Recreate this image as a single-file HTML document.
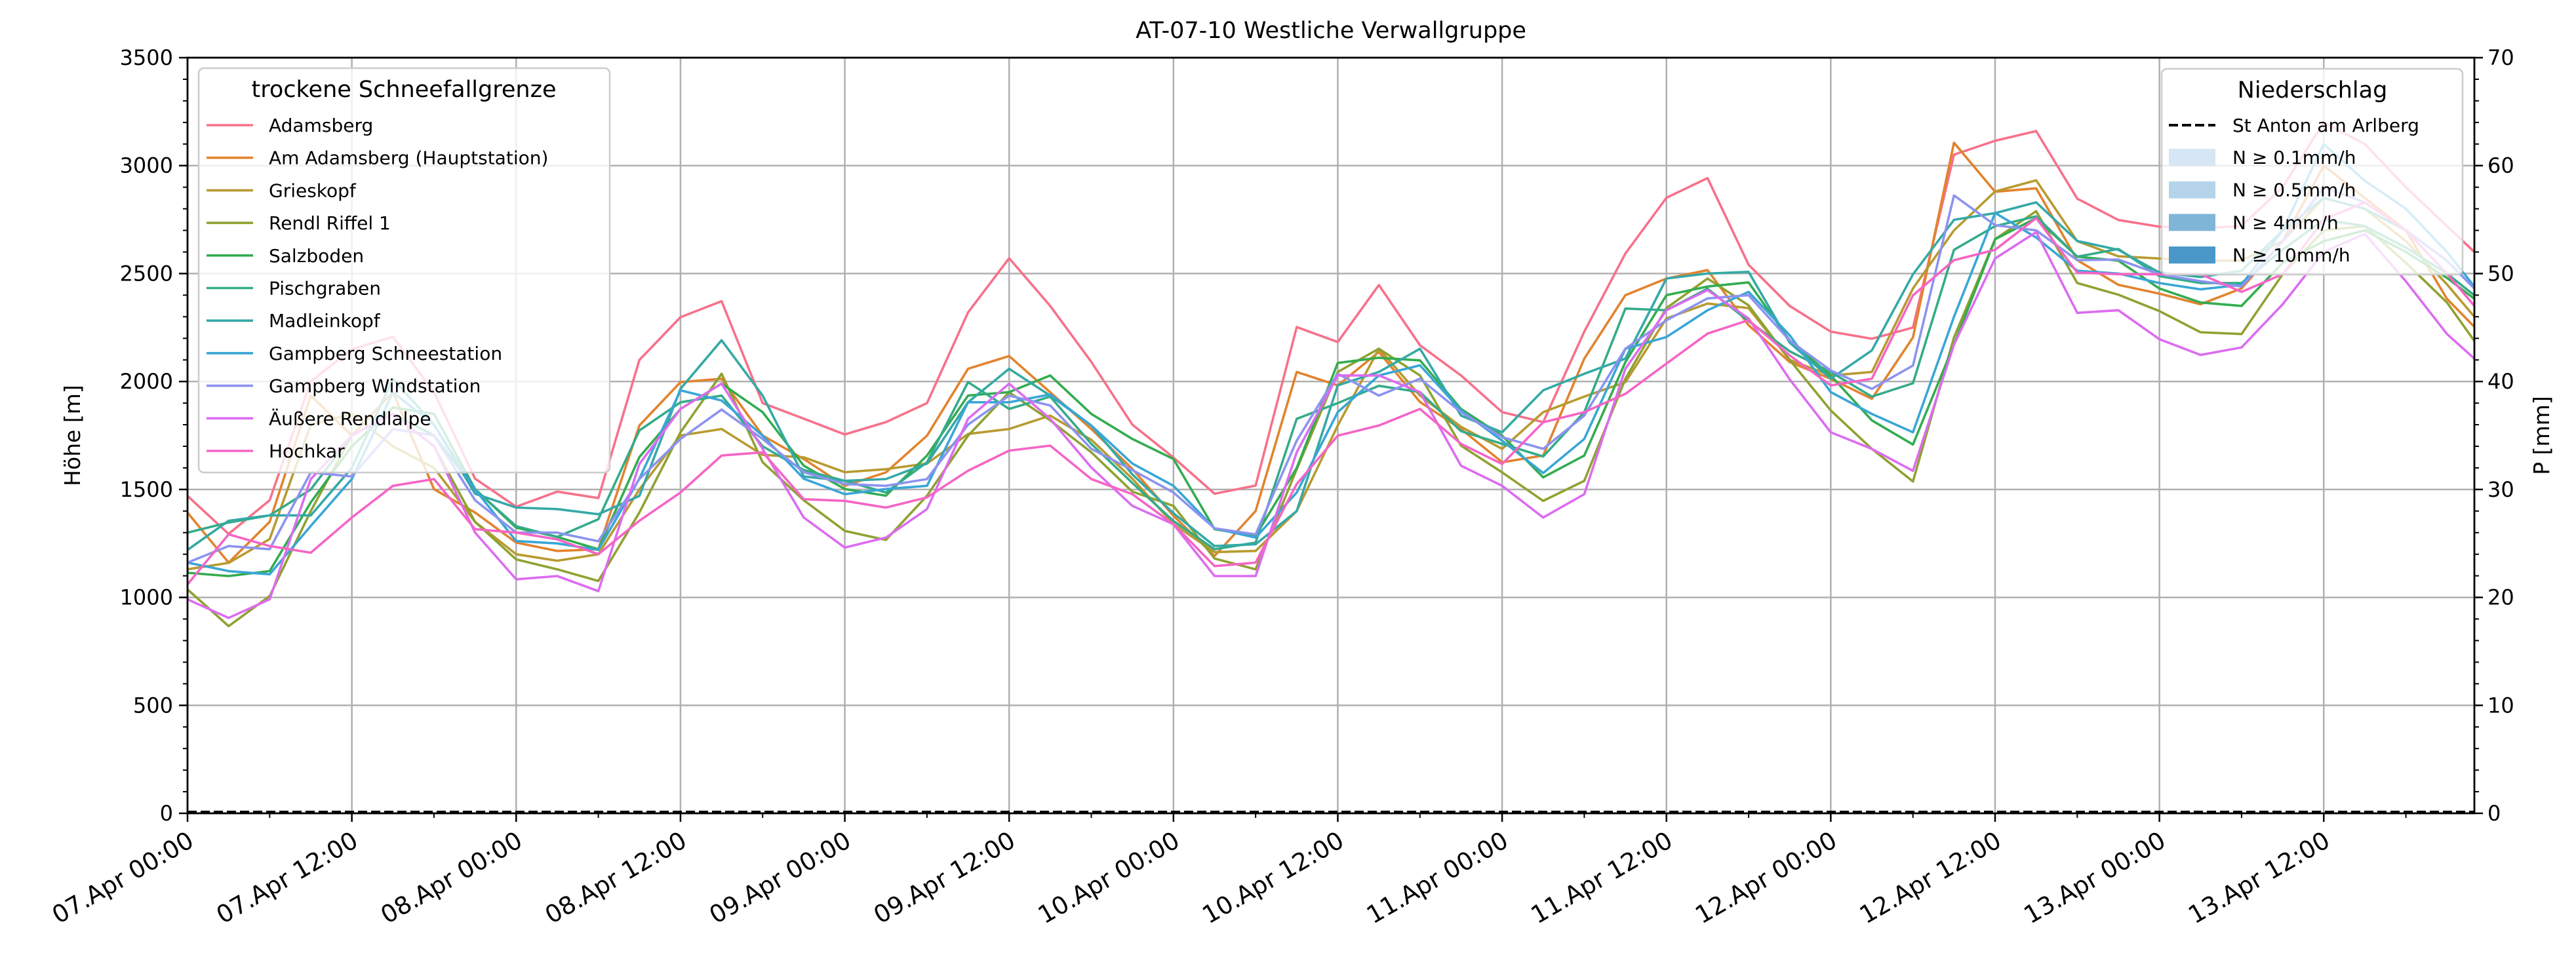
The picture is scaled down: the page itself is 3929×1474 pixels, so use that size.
<!DOCTYPE html>
<html><head><meta charset="utf-8">
<style>
html,body{margin:0;padding:0;background:#fff;}
svg{display:block;font-family:"DejaVu Sans","Liberation Sans",sans-serif;}
</style></head>
<body>
<svg id="chart" width="3929" height="1474" viewBox="0 0 3929 1474" xmlns="http://www.w3.org/2000/svg">
<rect width="3929" height="1474" fill="#fff"/>
<text x="2030" y="58" font-size="35" text-anchor="middle">AT-07-10 Westliche Verwallgruppe</text>
<g id="grid"></g><g id="series"></g><g id="axes"></g><g id="legends"></g>
</svg>
<script>
const hours = [0,3,6,9,12,15,18,21,24,27,30,33,36,39,42,45,48,51,54,57,60,63,66,69,72,75,78,81,84,87,90,93,96,99,102,105,108,111,114,117,120,123,126,129,132,135,138,141,144,147,150,153,156,159,162,165,167];
const seriesNames = ["Adamsberg","Am Adamsberg (Hauptstation)","Grieskopf","Rendl Riffel 1","Salzboden","Pischgraben","Madleinkopf","Gampberg Schneestation","Gampberg Windstation","Äußere Rendlalpe","Hochkar"];
const seriesColors = ["#f7718a","#e2832e","#b89a30","#8fa231","#33ac50","#35ab8a","#35a9a6","#39a6d6","#8c93ef","#dc6cf0","#f565c5"];
const adamsberg = [1470,1294,1450,2000,2150,2207,1950,1550,1420,1490,1460,2100,2298,2372,1900,1828,1755,1812,1900,2320,2571,2350,2091,1800,1648,1480,1518,2252,2183,2447,2168,2028,1858,1812,2231,2593,2851,2942,2541,2350,2231,2198,2250,3051,3115,3160,2847,2748,2717,2710,2720,2900,3200,3100,2900,2720,2600];
const amAdamsberg = [1393,1161,1350,1935,1750,1951,1501,1393,1254,1215,1223,1796,1997,2013,1750,1641,1517,1579,1749,2059,2118,1950,1780,1595,1378,1192,1400,2044,1982,2137,1905,1780,1626,1657,2106,2400,2477,2516,2261,2090,2013,1920,2204,3106,2879,2895,2562,2448,2407,2358,2431,2650,3000,2850,2700,2383,2253];
const grieskopf = [1130,1160,1270,1800,1850,1700,1600,1350,1200,1170,1200,1500,1750,1780,1660,1649,1580,1594,1620,1757,1780,1842,1730,1550,1340,1210,1215,1400,1796,2152,1935,1790,1688,1858,1930,1997,2292,2361,2340,2100,2028,2044,2431,2700,2880,2932,2650,2580,2570,2560,2560,2650,2850,2800,2650,2450,2300];
const rendlRiffel = [1037,867,1006,1400,1750,1850,1700,1350,1176,1130,1076,1393,1765,2036,1626,1450,1308,1266,1471,1749,1950,1820,1672,1490,1424,1180,1130,1594,2044,2152,2028,1703,1579,1447,1540,2013,2340,2477,2353,2100,1866,1688,1537,2204,2659,2789,2456,2402,2326,2228,2220,2497,2700,2720,2550,2366,2188];
const salzboden = [1114,1099,1122,1440,1700,1880,1850,1502,1323,1280,1223,1650,1873,1990,1858,1610,1502,1471,1657,1935,1951,2028,1850,1734,1641,1316,1285,1600,2086,2110,2098,1873,1749,1556,1657,2090,2400,2440,2459,2190,2028,1820,1708,2171,2659,2757,2578,2560,2431,2366,2350,2550,2650,2700,2600,2480,2383];
const pischgraben = [1300,1347,1380,1500,1750,1850,1750,1500,1330,1280,1362,1773,1904,1935,1700,1590,1540,1486,1626,1997,1873,1930,1711,1530,1354,1223,1254,1827,1900,1980,1951,1770,1711,1653,1858,2338,2330,2430,2280,2140,2044,1930,1992,2610,2720,2765,2578,2614,2488,2456,2456,2610,2750,2720,2620,2500,2399];
const madleinkopf = [1220,1355,1380,1380,1600,2013,1800,1480,1416,1409,1385,1470,1966,2191,1935,1560,1540,1548,1620,1904,2059,1935,1796,1570,1390,1238,1246,1400,1982,2044,2152,1842,1765,1959,2036,2106,2477,2500,2508,2180,2013,2144,2496,2749,2780,2830,2651,2610,2505,2484,2513,2700,2850,2800,2700,2560,2431];
const gampbergSchnee = [1161,1122,1107,1331,1548,1950,1800,1500,1261,1250,1220,1550,1959,1912,1749,1550,1478,1502,1517,1904,1904,1940,1796,1620,1517,1320,1277,1486,1858,2028,2075,1866,1726,1576,1734,2152,2206,2330,2415,2214,1951,1850,1765,2300,2781,2667,2513,2500,2456,2427,2448,2700,3100,2930,2800,2600,2440];
const gampbergWind = [1161,1238,1223,1579,1560,1780,1750,1450,1300,1300,1260,1548,1734,1870,1734,1580,1525,1517,1548,1800,1935,1889,1688,1590,1486,1320,1292,1726,2036,1935,2013,1858,1742,1688,1842,2152,2284,2385,2400,2190,2051,1966,2074,2862,2724,2700,2562,2565,2497,2465,2440,2650,2900,2830,2700,2560,2431];
const aeussereRendlalpe = [991,905,991,1548,1750,1850,1700,1300,1084,1099,1029,1618,1873,1990,1688,1370,1231,1277,1409,1827,1990,1827,1602,1424,1339,1099,1099,1672,2028,2028,1951,1610,1517,1370,1478,2059,2330,2423,2292,2010,1765,1688,1586,2171,2570,2692,2318,2330,2196,2123,2158,2358,2600,2684,2464,2220,2106];
const hochkar = [1060,1292,1238,1207,1370,1517,1548,1316,1300,1269,1200,1355,1486,1657,1672,1455,1447,1416,1463,1587,1680,1703,1548,1478,1339,1145,1161,1525,1749,1796,1873,1711,1618,1811,1858,1943,2083,2222,2284,2121,1982,2013,2399,2562,2610,2757,2505,2497,2497,2497,2415,2497,2750,2830,2700,2500,2350];
const precipHours = [0,167];
const precipValues = [0,0];
const yTicks = [0,500,1000,1500,2000,2500,3000,3500];
const y2Ticks = [0,10,20,30,40,50,60,70];
const xTickHours = [0,12,24,36,48,60,72,84,96,108,120,132,144,156];
const xTickLabels = ["07.Apr 00:00","07.Apr 12:00","08.Apr 00:00","08.Apr 12:00","09.Apr 00:00","09.Apr 12:00","10.Apr 00:00","10.Apr 12:00","11.Apr 00:00","11.Apr 12:00","12.Apr 00:00","12.Apr 12:00","13.Apr 00:00","13.Apr 12:00"];
const precipLegendLabels = ["N ≥ 0.1mm/h","N ≥ 0.5mm/h","N ≥ 4mm/h","N ≥ 10mm/h"];
const precipLegendColors = ["#d6e6f4","#b6d4e9","#7fb6d8","#4a98c9"];

const allSeries = [adamsberg,amAdamsberg,grieskopf,rendlRiffel,salzboden,pischgraben,madleinkopf,gampbergSchnee,gampbergWind,aeussereRendlalpe,hochkar];
const L=286,R=3774,T=88,B=1241;
const X0=0,X1=167;
function xs(h){return L+(h-X0)/(X1-X0)*(R-L);}
function ys(v){return B-v/3500*(B-T);}
function y2s(v){return B-v/70*(B-T);}
const NS="http://www.w3.org/2000/svg";
function mk(tag,attrs,parent){const e=document.createElementNS(NS,tag);for(const k in attrs)e.setAttribute(k,attrs[k]);parent.appendChild(e);return e;}
const grid=document.getElementById('grid'),ser=document.getElementById('series'),ax=document.getElementById('axes'),lg=document.getElementById('legends');

yTicks.forEach(v=>{const l=mk('line',{x1:L,x2:R,y1:ys(v),y2:ys(v),stroke:'#b0b0b0','stroke-width':2.5},grid);

});
xTickHours.forEach(h=>{const l=mk('line',{x1:xs(h),x2:xs(h),y1:T,y2:B,stroke:'#b0b0b0','stroke-width':2.5},grid);

});

allSeries.forEach((arr,i)=>{
  const pts=arr.map((v,j)=>xs(hours[j]).toFixed(1)+','+ys(v).toFixed(1)).join(' ');
  const p=mk('polyline',{points:pts,fill:'none',stroke:seriesColors[i],'stroke-width':3.6,'stroke-linejoin':'round'},ser);
  
  
});
const pp=mk('polyline',{points:precipHours.map((h,j)=>xs(h)+','+(y2s(precipValues[j])-2)).join(' '),fill:'none',stroke:'#000','stroke-width':4,'stroke-dasharray':'14 6'},ser);



const fr=mk('rect',{x:L,y:T,width:R-L,height:B-T,fill:'none',stroke:'#000','stroke-width':2.8},ax);


for(let v=0;v<=3500;v+=100){const major=v%500===0;mk('line',{x1:L,x2:L-(major?13:7),y1:ys(v),y2:ys(v),stroke:'#000','stroke-width':major?2.5:2},ax);}
yTicks.forEach(v=>{const t=mk('text',{x:L-22,y:ys(v)+11,'font-size':32,'text-anchor':'end'},ax);t.textContent=v;

});
for(let v=0;v<=70;v+=2){const major=v%10===0;mk('line',{x1:R,x2:R+(major?13:7),y1:y2s(v),y2:y2s(v),stroke:'#000','stroke-width':major?2.5:2},ax);}
y2Ticks.forEach(v=>{const t=mk('text',{x:R+20,y:y2s(v)+11,'font-size':32,'text-anchor':'start'},ax);t.textContent=v;

});
for(let h=0;h<=167;h+=6){const major=h%12===0;mk('line',{x1:xs(h),x2:xs(h),y1:B,y2:B+(major?13:7),stroke:'#000','stroke-width':major?2.5:2},ax);}
xTickHours.forEach((h,i)=>{const x=xs(h),y=B+28;const t=mk('text',{x:x,y:y+24,'font-size':37,'text-anchor':'end',transform:`rotate(-30 ${x} ${y})`},ax);t.textContent=xTickLabels[i];

});
const yl=mk('text',{x:122,y:(T+B)/2,'font-size':33,'text-anchor':'middle',transform:`rotate(-90 122 ${(T+B)/2})`},ax);yl.textContent='Höhe [m]';


const y2l=mk('text',{x:3888,y:(T+B)/2,'font-size':33,'text-anchor':'middle',transform:`rotate(-90 3888 ${(T+B)/2})`},ax);y2l.textContent='P [mm]';



const lb1=mk('rect',{x:303,y:104,width:627,height:617,rx:8,fill:'#fff','fill-opacity':0.8,stroke:'#cccccc','stroke-width':2.5},lg);


const lt1=mk('text',{x:616,y:148,'font-size':35,'text-anchor':'middle'},lg);lt1.textContent='trockene Schneefallgrenze';


seriesNames.forEach((n,i)=>{const y=191+i*49.7;
  const ln=mk('line',{x1:315,x2:386,y1:y,y2:y,stroke:seriesColors[i],'stroke-width':3.6},lg);
  
  
  const t=mk('text',{x:410,y:y+10,'font-size':28},lg);t.textContent=n;
  
  });
const lb2=mk('rect',{x:3297,y:105,width:459,height:314,rx:8,fill:'#fff','fill-opacity':0.8,stroke:'#cccccc','stroke-width':2.5},lg);


const lt2=mk('text',{x:3527,y:149,'font-size':35,'text-anchor':'middle'},lg);lt2.textContent='Niederschlag';


const dl=mk('line',{x1:3308,x2:3379,y1:191,y2:191,stroke:'#000','stroke-width':4,'stroke-dasharray':'14 6'},lg);


const dt=mk('text',{x:3405,y:201,'font-size':28},lg);dt.textContent='St Anton am Arlberg';


precipLegendLabels.forEach((n,i)=>{const y=240+i*49.7;
  const r=mk('rect',{x:3308,y:y-13,width:71,height:26,fill:precipLegendColors[i]},lg);
  
  
  const t=mk('text',{x:3405,y:y+10,'font-size':28},lg);t.textContent=n;
  
  });
</script>
</body></html>
